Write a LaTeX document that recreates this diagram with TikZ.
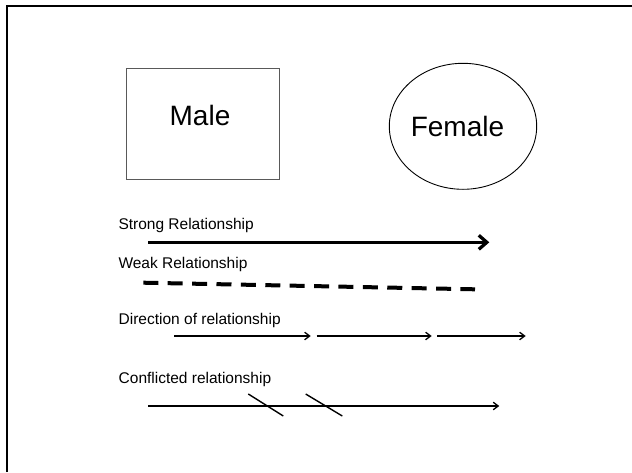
\documentclass[tikz,border=0pt]{standalone}
\usepackage{fontspec}
\setmainfont{Liberation Sans}
\usetikzlibrary{arrows.meta,shapes.geometric}
\begin{document}
\begin{tikzpicture}[x=1pt,y=-1pt,
  lbl/.style={anchor=base west,inner sep=0pt,font=\fontsize{15.5}{18}\selectfont},
  big/.style={anchor=base,inner sep=0pt,font=\fontsize{28}{32}\selectfont},
  thinarrow/.style={line width=1.3pt,-{Straight Barb[length=5pt,width=7.5pt]}},
  slash/.style={line width=1.4pt}]
\useasboundingbox (0,0) rectangle (632,472);
\fill[white] (0,0) rectangle (632,472);
% frame
\coordinate (fa) at (7,472);
\coordinate (fb) at (7,6.3);
\coordinate (fc) at (632,6.3);
\draw[line width=2.3pt] (fa) -- (fb) -- (fc);
% Male box
\node[draw=black!65,line width=1pt,rectangle,inner sep=0pt,
  minimum width=152.6pt,minimum height=110.7pt] (male) at (203,123.7) {};
\node[big] (maletext) at (200,125) {Male};
% Female ellipse
\node[draw=black,line width=0.9pt,ellipse,inner sep=0pt,
  minimum width=147.4pt,minimum height=126pt] (female) at (463,126.3) {};
\node[big] (femaletext) at (457.5,136) {Female};
% Strong
\node[lbl] (strong) at (118.3,229) {Strong Relationship};
\coordinate (s1) at (148.3,242.3);
\coordinate (s2) at (489.3,242.3);
\draw[line width=3.3pt,-{Straight Barb[length=8pt,width=14pt]}] (s1) -- (s2);
% Weak
\node[lbl] (weak) at (118.3,268) {Weak Relationship};
\coordinate (w1) at (143.3,282.7);
\coordinate (w2) at (475,289.3);
\draw[line width=4pt,dash pattern=on 15pt off 9.4pt] (w1) -- (w2);
% Direction
\node[lbl] (direction) at (118.5,324) {Direction of relationship};
\coordinate (d1) at (174,336);
\coordinate (d2) at (310.7,336);
\coordinate (d3) at (316.7,336);
\coordinate (d4) at (431.7,336);
\coordinate (d5) at (437.3,336);
\coordinate (d6) at (525.7,336);
\draw[thinarrow] (d1) -- (d2);
\draw[thinarrow] (d3) -- (d4);
\draw[thinarrow] (d5) -- (d6);
% Conflicted
\node[lbl] (conflicted) at (118.5,383.3) {Conflicted relationship};
\coordinate (c1) at (148.3,406);
\coordinate (c2) at (499.3,406);
\draw[thinarrow] (c1) -- (c2);
\coordinate (x1a) at (248.3,394);
\coordinate (x1b) at (283.3,416);
\coordinate (x2a) at (305.7,394);
\coordinate (x2b) at (342.3,416);
\draw[slash] (x1a) -- (x1b);
\draw[slash] (x2a) -- (x2b);
\end{tikzpicture}
\end{document}
